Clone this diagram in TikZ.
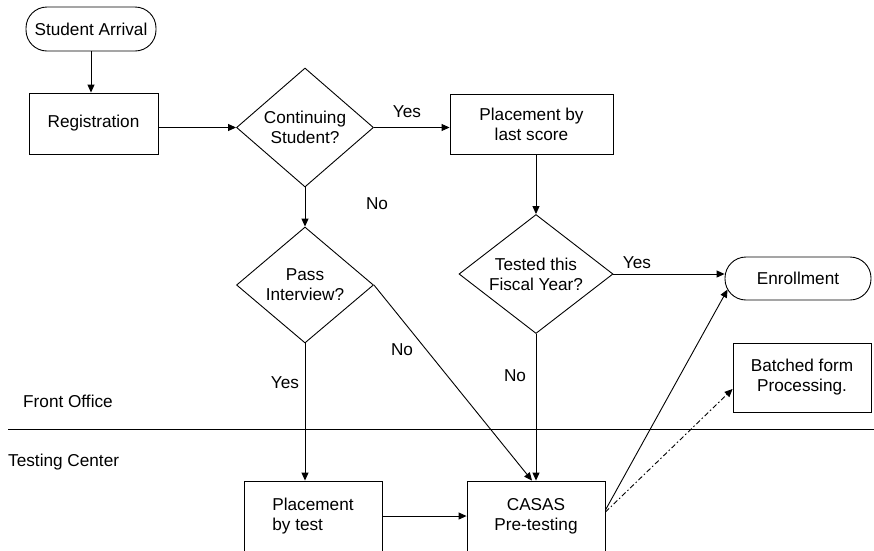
\documentclass[tikz,border=0pt]{standalone}
\usepackage{fontspec}
\setmainfont{Liberation Sans}
\usetikzlibrary{arrows.meta,shapes.geometric}
\begin{document}
\begin{tikzpicture}[x=1pt,y=-1pt,
  every node/.style={font=\fontsize{17.2}{20}\selectfont, inner sep=0pt},
  procbox/.style={draw, line width=0.9pt, rectangle, align=center},
  termbox/.style={draw, line width=0.9pt, rectangle, rounded corners=21pt, align=center},
  decbox/.style={draw, line width=0.9pt, diamond, align=center},
  arr/.style={line width=0.9pt, -{Triangle[length=8pt,width=7pt]}},
  dasharr/.style={line width=0.9pt, dash pattern=on 5pt off 2.5pt on 1.5pt off 2.5pt, -{Triangle[length=8pt,width=7pt]}}]
\useasboundingbox (0,0) rectangle (874,550);

\node[termbox, minimum width=130pt, minimum height=44pt] (arrival) at (91,29) {Student Arrival};
\node[procbox, minimum width=129pt, minimum height=61pt] (reg) at (93.5,123.5) {Registration};
\node[decbox, aspect=1.15, minimum width=137pt, minimum height=119pt] (cont) at (305,127.5) {Continuing\\Student?};
\node[procbox, minimum width=163pt, minimum height=60pt] (plast) at (531.5,124) {Placement by\\last score};
\node[decbox, aspect=1.3, minimum width=154pt, minimum height=119pt] (tested) at (536,274) {Tested this\\Fiscal Year?};
\node[termbox, minimum width=146pt, minimum height=43pt] (enroll) at (798,278.5) {Enrollment};
\node[decbox, aspect=1.15, minimum width=137pt, minimum height=116pt] (pass) at (305,285) {Pass\\Interview?};
\node[procbox, minimum width=138pt, minimum height=70pt, align=left] (ptest) at (313,516) {Placement\\by test};
\node[procbox, minimum width=138pt, minimum height=70pt] (casas) at (536,516) {CASAS\\Pre-testing};
\node[procbox, minimum width=138pt, minimum height=69pt] (batch) at (802,377.5) {Batched form\\Processing.};

\node[anchor=west] (front) at (23,401) {Front Office};
\node[anchor=west] (testing) at (8,462) {Testing Center};
\coordinate (laneL) at (8,429);
\coordinate (laneR) at (874,429);
\draw[line width=0.9pt] (laneL) -- (laneR);

\draw[arr] (arrival.south) -- (arrival.south |- reg.north);
\draw[arr] (reg.east |- cont.west) -- (cont.west);
\draw[arr] (cont.east) -- (cont.east -| plast.west);
\node (yes1) at (407,112) {Yes};
\draw[arr] (tested.north |- plast.south) -- (tested.north);
\draw[arr] (tested.east) -- (tested.east -| enroll.west);
\node (yes2) at (637,263) {Yes};
\draw[arr] (cont.south) -- (pass.north);
\node (no1) at (377,204) {No};
\draw[arr] (pass.south) -- (pass.south |- ptest.north);
\node (yes3) at (285,383) {Yes};
\draw[arr] (pass.east) -- ([xshift=-4pt]casas.north);
\node (no2) at (402,350) {No};
\draw[arr] (tested.south) -- (tested.south |- casas.north);
\node (no3) at (515,376) {No};
\draw[arr] (ptest.east) -- (casas.west);
\draw[arr] ([yshift=6pt]casas.east) -- ([shift={(3pt,-11pt)}]enroll.west);
\draw[dasharr] ([yshift=4pt]casas.east) -- ([yshift=-11.5pt]batch.west);
\end{tikzpicture}
\end{document}
